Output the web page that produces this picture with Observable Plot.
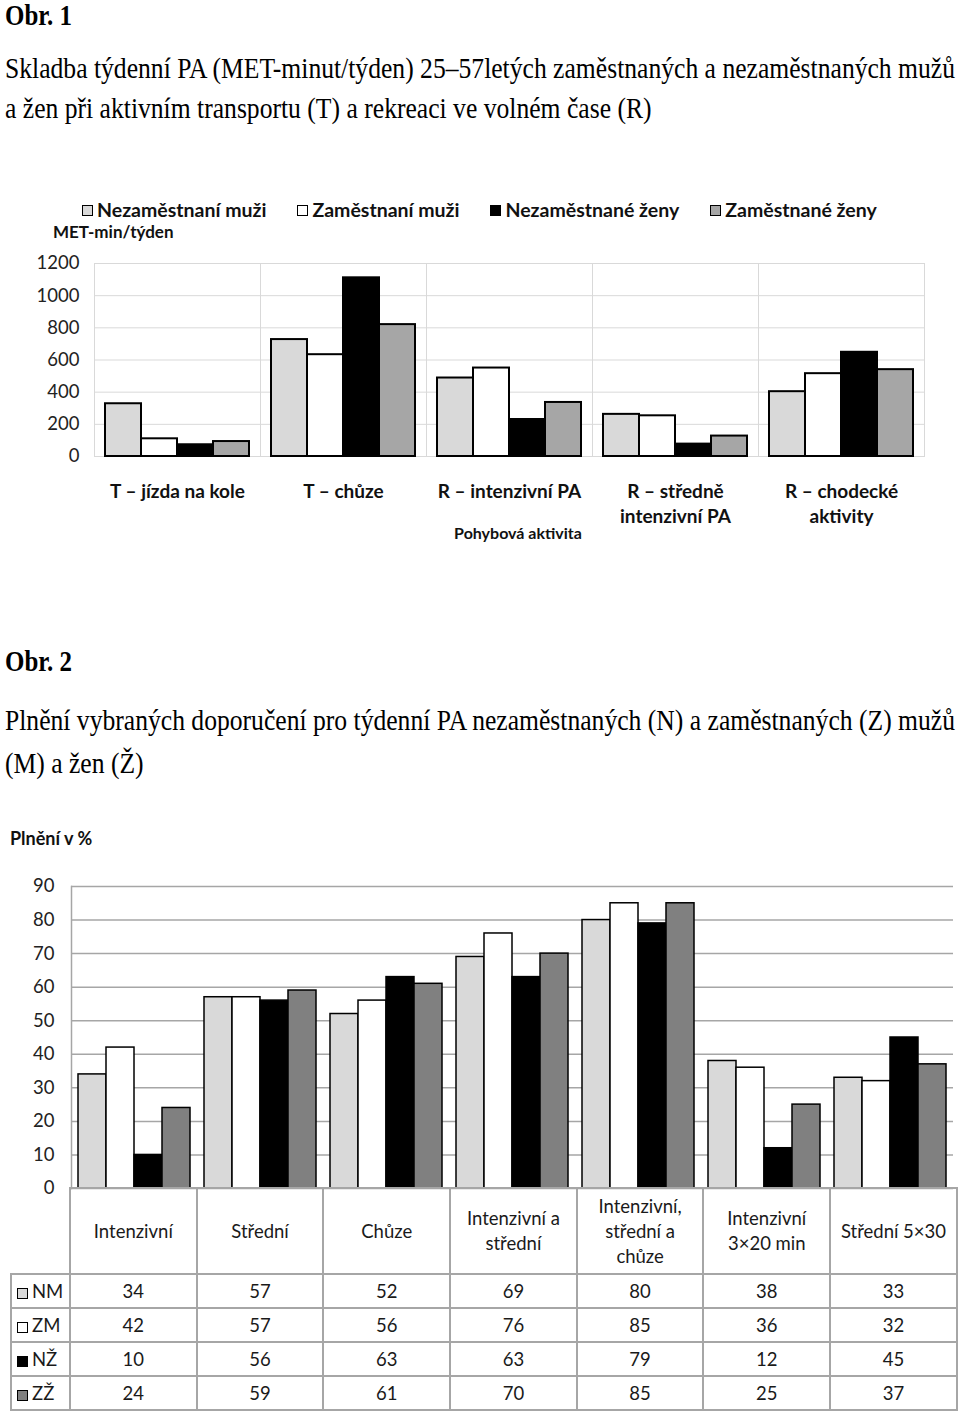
<!DOCTYPE html>
<html><head><meta charset="utf-8">
<script src="https://cdn.jsdelivr.net/npm/d3@7"></script>
<script src="https://cdn.jsdelivr.net/npm/@observablehq/plot@0.6"></script>
<style>
html,body{margin:0;padding:0;background:#fff;}
body{width:960px;height:1414px;position:relative;overflow:hidden;font-family:Lato,"Open Sans",sans-serif;color:#111;}
.serif{position:absolute;left:5px;font-family:"Liberation Serif","Times New Roman",serif;font-size:30px;line-height:30px;white-space:nowrap;transform-origin:0 0;color:#000;display:inline-block;}
.abs{position:absolute;white-space:nowrap;}
.sq{display:inline-block;width:9px;height:9px;border:1.5px solid #000;box-sizing:content-box;}
#legend1{position:absolute;left:82px;top:198px;display:flex;gap:31px;font-weight:bold;font-size:19.5px;line-height:24px;}
#legend1 .item{display:flex;align-items:center;gap:4px;}
#tbl{position:absolute;left:10px;top:1187px;border-collapse:collapse;table-layout:fixed;width:946px;font-size:18.5px;color:#1a1a1a;}
#tbl td{border:2px solid #a6a6a6;text-align:center;padding:0;white-space:pre-line;line-height:25px;}
#tbl tr.head td{height:84px;}
#tbl tr.row td{height:32px;}
#tbl td.corner{border-top:none;border-left:none;}
#tbl td.rl{text-align:left;padding-left:5px;}
#tbl td.rl span.sq{margin-right:4px;vertical-align:-1px;}
</style></head><body>
<div id="obr1" class="serif" style="top:0px;font-weight:bold">Obr. 1</div>
<div id="l1a" class="serif" style="top:53px">Skladba týdenní PA (MET-minut/týden) 25–57letých zaměstnaných a nezaměstnaných mužů</div>
<div id="l1b" class="serif" style="top:93px">a žen při aktivním transportu (T) a rekreaci ve volném čase (R)</div>
<div id="legend1"></div>
<div class="abs" style="left:53px;top:221px;font-weight:bold;font-size:17px;line-height:22px;">MET-min/týden</div>
<div id="chart1" style="position:absolute;left:0;top:245px;"></div>
<div class="abs" style="left:518px;top:523px;transform:translateX(-50%);font-weight:bold;font-size:16px;line-height:20px;">Pohybová aktivita</div>

<div id="obr2" class="serif" style="top:646px;font-weight:bold">Obr. 2</div>
<div id="l2a" class="serif" style="top:705px">Plnění vybraných doporučení pro týdenní PA nezaměstnaných (N) a zaměstnaných (Z) mužů</div>
<div id="l2b" class="serif" style="top:748px">(M) a žen (Ž)</div>
<div class="abs" style="left:10px;top:827px;font-weight:bold;font-size:18px;line-height:22px;">Plnění v %</div>
<div id="chart2" style="position:absolute;left:0;top:870px;"></div>
<table id="tbl"></table>

<script>
// ---- Obr. 1 data ----
const categories1 = ["T – jízda na kole", "T – chůze", "R – intenzivní PA", "R – středně\nintenzivní PA", "R – chodecké\naktivity"];
const series1 = ["Nezaměstnaní muži", "Zaměstnaní muži", "Nezaměstnané ženy", "Zaměstnané ženy"];
const nezamestnaniMuzi = [328, 727, 488, 262, 403];
const zamestnaniMuzi = [110, 633, 550, 253, 515];
const nezamestnaneZeny = [73, 1111, 230, 77, 648];
const zamestnaneZeny = [93, 820, 336, 127, 540];
const yTicks1 = [0, 200, 400, 600, 800, 1000, 1200];
const colors1 = ["#d9d9d9", "#ffffff", "#000000", "#a6a6a6"];

// ---- Obr. 2 data ----
const categories2 = ["Intenzivní", "Střední", "Chůze", "Intenzivní a\nstřední", "Intenzivní,\nstřední a\nchůze", "Intenzivní\n3×20 min", "Střední 5×30"];
const series2 = ["NM", "ZM", "NŽ", "ZŽ"];
const valuesNM = [34, 57, 52, 69, 80, 38, 33];
const valuesZM = [42, 57, 56, 76, 85, 36, 32];
const valuesNZ = [10, 56, 63, 63, 79, 12, 45];
const valuesZZ = [24, 59, 61, 70, 85, 25, 37];
const yTicks2 = [0, 10, 20, 30, 40, 50, 60, 70, 80, 90];
const colors2 = ["#d9d9d9", "#ffffff", "#000000", "#808080"];

const seriesValues1 = [nezamestnaniMuzi, zamestnaniMuzi, nezamestnaneZeny, zamestnaneZeny];
const data1 = categories1.flatMap((c, i) => series1.map((s, j) => ({cat: c, series: s, value: seriesValues1[j][i]})));
const seriesValues2 = [valuesNM, valuesZM, valuesNZ, valuesZZ];
const data2 = categories2.flatMap((c, i) => series2.map((s, j) => ({cat: c, series: s, value: seriesValues2[j][i]})));

// legend 1
const lg = document.getElementById("legend1");
series1.forEach((s, j) => {
  const it = document.createElement("div"); it.className = "item";
  const sq = document.createElement("span"); sq.className = "sq"; sq.style.background = colors1[j];
  const t = document.createElement("span"); t.textContent = s;
  it.append(sq, t); lg.append(it);
});

const chart1 = Plot.plot({
  width: 960, height: 300,
  marginLeft: 93, marginRight: 35, marginTop: 18, marginBottom: 89,
  style: {fontFamily: "Lato, sans-serif", overflow: "visible", background: "transparent"},
  fx: {domain: categories1, padding: 0, label: null, axis: null},
  x: {domain: series1, paddingInner: 0, paddingOuter: 0.25, axis: null},
  y: {domain: [0, 1200], label: null, axis: null},
  color: {domain: series1, range: colors1},
  marks: [
    Plot.gridY({ticks: yTicks1, stroke: "#d9d9d9", strokeOpacity: 1, strokeWidth: 1}),
    Plot.frame({stroke: "#d9d9d9", strokeWidth: 1}),
    Plot.barY(data1, {fx: "cat", x: "series", y: "value", fill: "series", stroke: "#000", strokeWidth: 2}),
    Plot.axisY({ticks: yTicks1, tickFormat: d => String(d), tickSize: 0, tickPadding: 15, fontSize: 18.5, fill: "#222", label: null, facetAnchor: "left"}),
    Plot.axisFx({anchor: "bottom", tickSize: 0, tickPadding: 24, fontSize: 19, fontWeight: "bold", lineHeight: 1.316, label: null, fill: "#111"})
  ]
});
document.getElementById("chart1").append(chart1);

const chart2 = Plot.plot({
  width: 960, height: 330,
  marginLeft: 69, marginRight: 5, marginTop: 16, marginBottom: 12,
  style: {fontFamily: "Lato, sans-serif", overflow: "visible", background: "transparent"},
  fx: {domain: categories2, padding: 0, axis: null},
  x: {domain: series2, paddingInner: 0, paddingOuter: 0.24, axis: null},
  y: {domain: [0, 90], label: null, axis: null},
  color: {domain: series2, range: colors2},
  marks: [
    Plot.gridY({ticks: yTicks2, stroke: "#a6a6a6", strokeOpacity: 1, strokeWidth: 1.5}),
    Plot.frame({anchor: "left", facetAnchor: "left", stroke: "#a6a6a6", strokeOpacity: 1, strokeWidth: 1.5}),
    Plot.barY(data2, {fx: "cat", x: "series", y: "value", fill: "series", stroke: "#000", strokeWidth: 1.5}),
    Plot.axisY({ticks: yTicks2, tickFormat: d => String(d), tickSize: 0, tickPadding: 17, fontSize: 18.5, fill: "#222", label: null, facetAnchor: "left"})
  ]
});
document.getElementById("chart2").append(chart2);

// data table under chart 2
const tbl = document.getElementById("tbl");
const cg = document.createElement("colgroup");
const c0 = document.createElement("col"); c0.style.width = "59px"; cg.append(c0);
categories2.forEach(() => { const c = document.createElement("col"); c.style.width = "126.7px"; cg.append(c); });
tbl.append(cg);
const hr = document.createElement("tr"); hr.className = "head";
const corner = document.createElement("td"); corner.className = "corner"; hr.append(corner);
categories2.forEach(c => { const td = document.createElement("td"); td.textContent = c; hr.append(td); });
tbl.append(hr);
series2.forEach((s, j) => {
  const tr = document.createElement("tr"); tr.className = "row";
  const th = document.createElement("td"); th.className = "rl";
  const sq = document.createElement("span"); sq.className = "sq"; sq.style.background = colors2[j];
  th.append(sq, document.createTextNode(s)); tr.append(th);
  seriesValues2[j].forEach(v => { const td = document.createElement("td"); td.textContent = v; tr.append(td); });
  tbl.append(tr);
});

// fit serif titles horizontally
function fit(id, w) {
  const el = document.getElementById(id);
  const nat = el.getBoundingClientRect().width;
  return w / nat;
}
const k1 = fit("l1a", 950), k2 = fit("l2a", 950), kb = fit("obr1", 67);
["l1a", "l1b"].forEach(id => document.getElementById(id).style.transform = `scaleX(${k1})`);
["l2a", "l2b"].forEach(id => document.getElementById(id).style.transform = `scaleX(${k2})`);
["obr1", "obr2"].forEach(id => document.getElementById(id).style.transform = `scaleX(${kb})`);
</script>
</body></html>
